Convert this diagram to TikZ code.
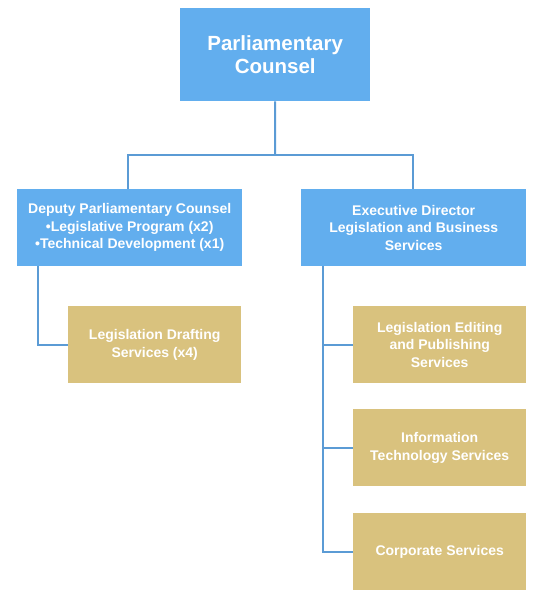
\documentclass[tikz,border=0pt]{standalone}
\usepackage{fontspec}
\setmainfont{Liberation Sans}
\definecolor{boxblue}{RGB}{98,174,238}
\definecolor{boxgold}{RGB}{217,194,126}
\definecolor{linkblue}{RGB}{91,155,213}
\tikzset{
  x=1pt,y=-1pt,
  box/.style={draw=none,inner sep=0pt,align=center,text=white,font=\bfseries\fontsize{14}{17.5}\selectfont,anchor=north west},
  bluebox/.style={box,fill=boxblue},
  goldbox/.style={box,fill=boxgold},
  link/.style={draw=linkblue,line width=2pt}
}
\begin{document}
\begin{tikzpicture}
\useasboundingbox (0,0) rectangle (538,601);
\node[bluebox,minimum width=190pt,minimum height=93pt,font=\bfseries\fontsize{20.5}{23.5}\selectfont] (pc) at (180,8) {Parliamentary\\Counsel};
\node[bluebox,minimum width=225pt,minimum height=77pt] (dpc) at (17,189) {Deputy Parliamentary Counsel\\•Legislative Program (x2)\\•Technical Development (x1)};
\node[bluebox,minimum width=225pt,minimum height=77pt] (ed) at (301,189) {Executive Director\\Legislation and Business\\Services};
\node[goldbox,minimum width=173pt,minimum height=77pt] (lds) at (68,306) {Legislation Drafting\\Services (x4)};
\node[goldbox,minimum width=173pt,minimum height=77pt] (leps) at (353,306) {Legislation Editing\\and Publishing\\Services};
\node[goldbox,minimum width=173pt,minimum height=77pt] (its) at (353,409) {Information\\Technology Services};
\node[goldbox,minimum width=173pt,minimum height=77pt] (cs) at (353,513) {Corporate Services};
\coordinate (mid) at (275,155);
\draw[link] (pc.south) -- (mid);
\draw[link] (dpc.north -| 128,0) |- (mid) -| (ed.north -| 413,0);
\draw[link] (dpc.south -| 38,0) |- (lds.west);
\draw[link] (ed.south -| 323,0) |- (leps.west);
\draw[link] (ed.south -| 323,0) |- (its.west);
\draw[link] (ed.south -| 323,0) |- (cs.west);
\end{tikzpicture}
\end{document}
